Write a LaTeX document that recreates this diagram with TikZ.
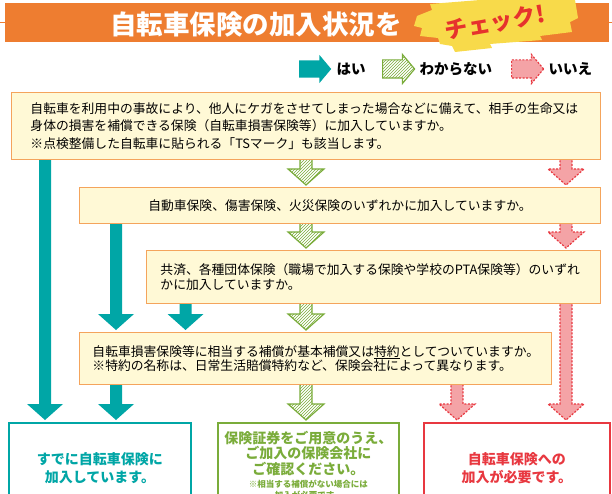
\documentclass[tikz,border=0pt]{standalone}
\usepackage{fontspec}
\setmainfont{Noto Sans CJK JP}
\usepackage{xcolor}
\usetikzlibrary{positioning,calc,patterns,shapes.arrows,backgrounds}
\definecolor{headorange}{RGB}{238,125,48}
\definecolor{burstyellow}{RGB}{248,218,74}
\definecolor{checkred}{RGB}{230,50,45}
\definecolor{yesteal}{RGB}{0,166,166}
\definecolor{dkgreen}{RGB}{122,172,58}
\definecolor{nored}{RGB}{232,56,64}
\definecolor{nopink}{RGB}{244,163,166}
\definecolor{boxfill}{RGB}{255,249,214}
\definecolor{boxline}{RGB}{244,164,92}

\begin{document}
\begin{tikzpicture}[x=1pt, y=-1pt,
        qbox/.style={draw=boxline, fill=boxfill, line width=0.9pt, anchor=north west, inner ysep=0pt, align=left, font=\fontsize{12.8}{15.5}\selectfont},
        endbox/.style={draw=#1, line width=1.8pt, fill=white, anchor=north west, minimum height=90pt, inner sep=0pt},
        endtext/.style={text=#1, align=center, inner sep=0pt, font=\fontsize{14}{18}\selectfont\bfseries},
        legarrow/.style={single arrow, minimum height=32pt, inner xsep=0pt, inner ysep=8.5pt, single arrow head extend=5.5pt, single arrow tip angle=100, anchor=west},
        legtext/.style={inner sep=0pt, font=\fontsize{14.5}{15}\selectfont\bfseries},
        down block/.style={to path={let \p1=(\tikztostart), \p2=(\tikztotarget) in
                (\x1-6pt,\y1+3pt) -- (\x1-6pt,\y2+18pt) -- (\x1-18pt,\y2+18pt) -- (\x1,\y2+2pt)
                -- (\x1+18pt,\y2+18pt) -- (\x1+6pt,\y2+18pt) -- (\x1+6pt,\y1+3pt) -- cycle}},
        yesarrow/.style={fill=yesteal, down block},
        unsurearrow/.style={draw=dkgreen, line width=1.2pt, preaction={fill=white}, pattern=north east lines, pattern color=dkgreen, down block},
        noarrow/.style={draw=nored, fill=nopink, line width=1.2pt, dash pattern=on 2pt off 1.5pt, down block}]
    \useasboundingbox (0,0) rectangle (612,494);
    \clip (0,0) rectangle (612,494);

    % header
    \draw[headorange, line width=0.6pt] (0,22) -- (612,22);
    \fill[headorange] (5,3) rectangle (609,42);
    \node[text=white, font=\fontsize{26.5}{26.5}\selectfont\bfseries] (title) at (256,24) {自転車保険の加入状況を};
    \fill[burstyellow] (417,16) -- (432,10) -- (430,4) -- (480,0) -- (575,0) -- (578,18) -- (570,22)
        -- (572,32) -- (540,36) -- (542,40) -- (490,44) -- (492,48) -- (455,52) -- (452,46)
        -- (440,44) -- (438,38) -- (420,36) -- (422,28) -- (414,26) -- cycle;
    \node[text=checkred, rotate=10, inner sep=0pt, font=\fontsize{23}{23}\selectfont\bfseries] (check) at (495,22) {チェック!};

    % legend
    \node[legarrow, fill=yesteal] (kyes) at (299,69) {};
    \node[legtext, right=5pt of kyes] (lyes) {はい};
    \node[legarrow, draw=dkgreen, line width=1.2pt, preaction={fill=white}, pattern=north east lines, pattern color=dkgreen] (kunsure) at (382,69) {};
    \node[legtext, right=4pt of kunsure] (lunsure) {わからない};
    \node[legarrow, draw=nored, fill=nopink, line width=1.2pt, dash pattern=on 2pt off 1.5pt] (kno) at (511,69) {};
    \node[legtext, right=4pt of kno] (lno) {いいえ};

    % questions
    \node[qbox, inner xsep=19pt, text width=551pt, minimum height=67pt, font=\fontsize{12.8}{17.5}\selectfont] (q1) at (11,92)
        {自転車を利用中の事故により、他人にケガをさせてしまった場合などに備えて、相手の生命又は\\
         身体の損害を補償できる保険（自転車損害保険等）に加入していますか。\\
         ※点検整備した自転車に貼られる「TSマーク」も該当します。};
    \node[qbox, inner xsep=10pt, text width=501pt, minimum height=36pt, align=center] (q2) at (79,187)
        {自動車保険、傷害保険、火災保険のいずれかに加入していますか。};
    \node[qbox, inner xsep=14pt, text width=426pt, minimum height=53pt] (q3) at (146,250)
        {共済、各種団体保険（職場で加入する保険や学校のPTA保険等）のいずれ\\かに加入していますか。};
    \node[qbox, inner xsep=13pt, text width=446pt, minimum height=52pt, font=\fontsize{12.8}{14.5}\selectfont] (q4) at (79,332)
        {自転車損害保険等に相当する補償が基本補償又は\underline{特約}としてついていますか。\\
         ※特約の名称は、日常生活賠償特約など、保険会社によって異なります。};

    % answers
    \node[endbox=yesteal, minimum width=182pt] (ayes) at (8,422) {};
    \node[endtext=yesteal, below=30pt of ayes.north] (tyes) {すでに自転車保険に\\加入しています。};
    \node[endbox=dkgreen, minimum width=181pt] (aunsure) at (217,422) {};
    \node[endtext=dkgreen, below=9pt of aunsure.north, font=\fontsize{14}{15.5}\selectfont\bfseries] (tunsure) {保険証券をご用意のうえ、\\ご加入の保険会社に\\ご確認ください。};
    \node[endtext=dkgreen, below=4pt of tunsure, font=\fontsize{8.5}{10.5}\selectfont\bfseries] (nunsure) {※相当する補償がない場合には\\加入が必要です。};
    \node[endbox=nored, minimum width=186pt] (ano) at (423,422) {};
    \node[endtext=nored, below=30pt of ano.north] (tno) {自転車保険への\\加入が必要です。};

    % columns of the arrows
    \coordinate (ca) at (45,0);
    \coordinate (cb) at (116,0);
    \coordinate (cc) at (185.5,0);
    \coordinate (cg) at (306,0);
    \coordinate (cs) at (457,0);
    \coordinate (cr) at (566,0);

    \begin{scope}[on background layer]
        \path[yesarrow] (q1.south -| ca) to (ayes.north -| ca);
        \path[yesarrow] (q2.south -| cb) to (q4.north -| cb);
        \path[yesarrow] (q3.south -| cc) to (q4.north -| cc);
        \path[yesarrow] (q4.south -| cb) to (ayes.north -| cb);
        \path[unsurearrow] (q1.south -| cg) to (q2.north -| cg);
        \path[unsurearrow] (q2.south -| cg) to (q3.north -| cg);
        \path[unsurearrow] (q3.south -| cg) to (q4.north -| cg);
        \path[unsurearrow] (q4.south -| cg) to (aunsure.north -| cg);
        \path[noarrow] (q1.south -| cr) to (q2.north -| cr);
        \path[noarrow] (q2.south -| cr) to (q3.north -| cr);
        \path[noarrow] (q3.south -| cr) to (ano.north -| cr);
        \path[noarrow] (q4.south -| cs) to (ano.north -| cs);
    \end{scope}
\end{tikzpicture}
\end{document}
